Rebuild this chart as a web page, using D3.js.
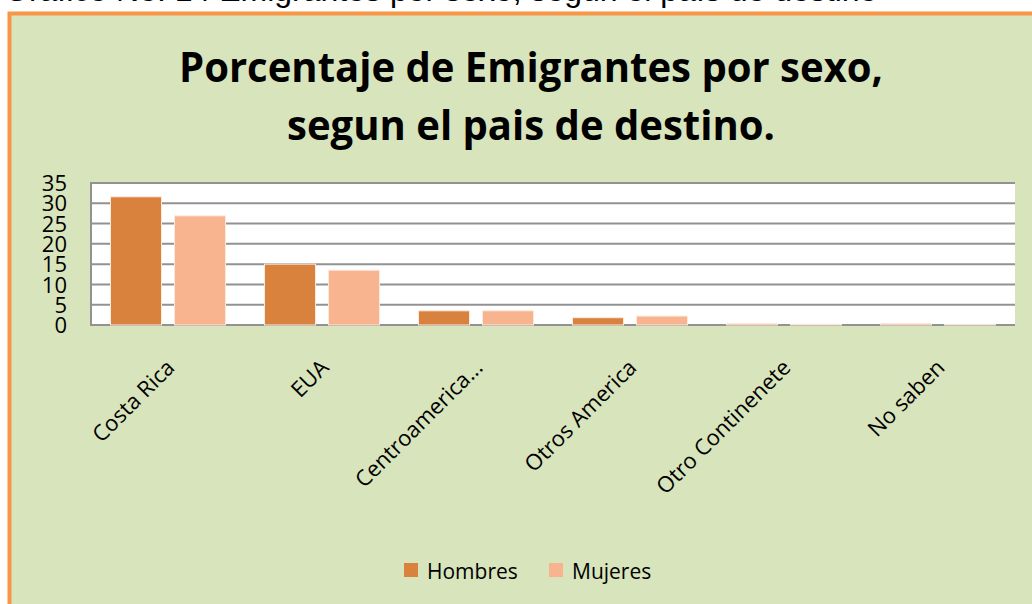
<!DOCTYPE html>
<html>
<head>
<meta charset="utf-8">
<script src="https://cdn.jsdelivr.net/npm/d3@7"></script>
<style>
  body { margin: 0; background: #fff; }
  svg { display: block; }
</style>
</head>
<body>
<script>
var categories = ["Costa Rica", "EUA", "Centroamerica...", "Otros America", "Otro Continenete", "No saben"];
var series = ["Hombres", "Mujeres"];
var hombres = [31.6, 15.0, 3.5, 1.8, 0.3, 0.3];
var mujeres = [26.9, 13.5, 3.5, 2.2, 0.2, 0.1];
var yTicks = [0, 5, 10, 15, 20, 25, 30, 35];
var titleLines = ["Porcentaje de Emigrantes por sexo,", "segun el pais de destino."];
var caption = "Gráfico No. 14  Emigrantes por sexo, según el país de destino";

var colors = d3.scaleOrdinal().domain(series).range(["#d9823e", "#f8b48f"]);

var svg = d3.select("body").append("svg").attr("width", 1032).attr("height", 604);

// caption cut off at the top of the page
svg.append("text")
  .attr("x", 4)
  .attr("y", 1)
  .attr("font-family", "Liberation Sans, Arial, sans-serif")
  .attr("font-size", 32)
  .attr("fill", "#000")
  .text(caption);

// chart frame
svg.append("rect")
  .attr("x", 9.5).attr("y", 13.5)
  .attr("width", 1040).attr("height", 610)
  .attr("fill", "#d8e4bc")
  .attr("stroke", "#f79646")
  .attr("stroke-width", 4);

svg.append("g")
  .selectAll("text")
  .data(titleLines)
  .enter()
  .append("text")
  .attr("x", 531)
  .attr("y", (d, i) => 82 + i * 58)
  .attr("text-anchor", "middle")
  .attr("font-family", "Open Sans, sans-serif")
  .attr("font-weight", "bold")
  .attr("font-size", 41)
  .attr("textLength", (d, i) => i === 0 ? 704 : 488)
  .attr("lengthAdjust", "spacingAndGlyphs")
  .attr("fill", "#000")
  .text((d) => d);

var margin = { left: 91, right: 1015, top: 183, bottom: 325 };

var x0 = d3.scaleBand().domain(categories).range([margin.left, margin.right]);
var x1 = d3.scaleBand().domain(series).range([0, x0.bandwidth()])
  .paddingInner(0.203).paddingOuter(0.305);
var y = d3.scaleLinear().domain([0, 35]).range([margin.bottom, margin.top]);

svg.append("rect")
  .attr("x", margin.left).attr("y", margin.top)
  .attr("width", margin.right - margin.left)
  .attr("height", margin.bottom - margin.top)
  .attr("fill", "#fff");

// gridlines
svg.append("g")
  .selectAll("line")
  .data(yTicks)
  .enter()
  .append("line")
  .attr("x1", margin.left).attr("x2", margin.right)
  .attr("y1", (d) => y(d)).attr("y2", (d) => y(d))
  .attr("stroke", "#929292")
  .attr("stroke-width", 2);

svg.append("line")
  .attr("x1", margin.left).attr("x2", margin.left)
  .attr("y1", margin.top - 1).attr("y2", margin.bottom + 1)
  .attr("stroke", "#929292")
  .attr("stroke-width", 2);

var rows = categories.map((c, i) => ({ cat: c, values: [hombres[i], mujeres[i]] }));

svg.append("g")
  .selectAll("g")
  .data(rows)
  .enter()
  .append("g")
  .attr("transform", (d) => "translate(" + x0(d.cat) + ",0)")
  .selectAll("rect")
  .data((d) => d.values.map((v, j) => ({ key: series[j], value: v })))
  .enter()
  .append("rect")
  .attr("x", (d) => x1(d.key))
  .attr("width", x1.bandwidth())
  .attr("y", (d) => y(d.value))
  .attr("height", (d) => y(0) - y(d.value))
  .attr("fill", (d) => colors(d.key))
  .attr("stroke", "#fde9dc")
  .attr("stroke-width", 1);

// y axis labels
var yAxis = svg.append("g")
  .attr("transform", "translate(" + (margin.left - 24) + ",0)")
  .call(d3.axisLeft(y).tickValues(yTicks).tickSize(0).tickPadding(0));
yAxis.select(".domain").remove();
yAxis.selectAll("text")
  .attr("font-family", "Open Sans, sans-serif")
  .attr("font-size", 22)
  .attr("fill", "#000")
  .attr("dy", "0.35em");

// category labels
var xAxis = svg.append("g")
  .attr("transform", "translate(0," + margin.bottom + ")")
  .call(d3.axisBottom(x0).tickSize(0).tickPadding(0));
xAxis.select(".domain").remove();
xAxis.selectAll("text")
  .attr("font-family", "Open Sans, sans-serif")
  .attr("font-size", 22)
  .attr("fill", "#000")
  .attr("text-anchor", "end")
  .attr("dy", 0)
  .attr("transform", "translate(8,44) rotate(-45)");

// legend
var legend = svg.append("g")
  .selectAll("g")
  .data(series)
  .enter()
  .append("g")
  .attr("transform", (d, i) => "translate(" + (404 + i * 145) + ",563)");

legend.append("rect")
  .attr("width", 14).attr("height", 14)
  .attr("fill", (d) => colors(d));

legend.append("text")
  .attr("x", 23)
  .attr("y", 16)
  .attr("font-family", "Open Sans, sans-serif")
  .attr("font-size", 21)
  .attr("fill", "#000")
  .text((d) => d);
</script>
</body>
</html>
